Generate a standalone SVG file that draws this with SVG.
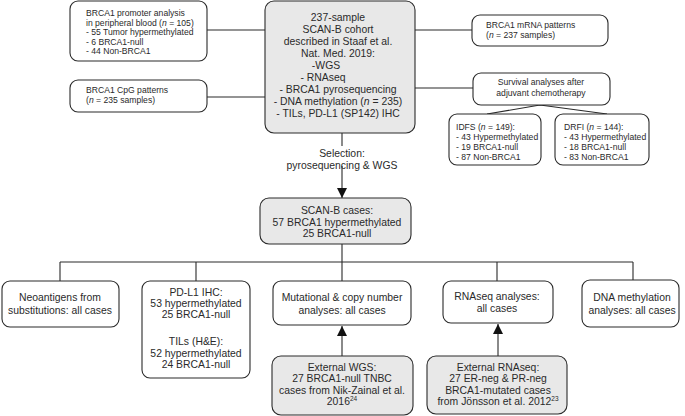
<svg xmlns="http://www.w3.org/2000/svg" width="685" height="416" viewBox="0 0 685 416">
<defs>
<style>
.b{fill:#fff;stroke:#2a2a2a;stroke-width:1.1}
.g{fill:#e8e8e8;stroke:#2a2a2a;stroke-width:1.1}
.l{fill:none;stroke:#2a2a2a;stroke-width:1.1}
text{font-family:"Liberation Sans",Arial,sans-serif;fill:#2a2a2a}
.s{font-size:8.6px}
.m{font-size:10.4px;text-anchor:middle}
.sc{font-size:8.6px;text-anchor:middle}
.sup{font-size:6.5px}
</style>
<marker id="ah" viewBox="0 0 10 10" refX="10" refY="5" markerWidth="10" markerHeight="10" markerUnits="userSpaceOnUse" orient="auto">
<path d="M0,0L10,5L0,10z" fill="#111"/>
</marker>
</defs>
<g id="connectors">
<path class="l" d="M207,30H265M207,97H265M415,30H472M415,88H473"/>
<path class="l" d="M540,105L487,114M540,105L607,114"/>
<path class="l" d="M342,133V146"/>
<path class="l" d="M342,166V198" marker-end="url(#ah)"/>
<path class="l" d="M342,244V262M60,262H633M60,262V281M196,262V281M497,262V281M633,262V280M342,262V281"/>
<path class="l" d="M342,356V326" marker-end="url(#ah)"/>
<path class="l" d="M498,356V324" marker-end="url(#ah)"/>
</g>
<g id="promoter">
<rect class="b" x="70" y="1" width="137" height="60" rx="8"/>
<text class="s" x="86" y="16">BRCA1 promoter analysis</text>
<text class="s" x="86" y="25.5">in peripheral blood (<tspan font-style="italic">n</tspan> = 105)</text>
<text class="s" x="86" y="35">- 55 Tumor hypermethylated</text>
<text class="s" x="86" y="44.5">- 6 BRCA1-null</text>
<text class="s" x="86" y="54">- 44 Non-BRCA1</text>
</g>
<g id="cpg">
<rect class="b" x="70" y="80" width="137" height="32" rx="8"/>
<text class="s" x="86" y="93">BRCA1 CpG patterns</text>
<text class="s" x="86" y="103">(<tspan font-style="italic">n</tspan> = 235 samples)</text>
</g>
<g id="cohort">
<rect class="g" x="265" y="1" width="150" height="132" rx="9"/>
<text class="m" x="338" y="21">237-sample</text>
<text class="m" x="338" y="33">SCAN-B cohort</text>
<text class="m" x="338" y="45">described in Staaf et al.</text>
<text class="m" x="338" y="57">Nat. Med. 2019:</text>
<text class="m" x="326" y="69">-WGS</text>
<text class="m" x="323" y="81">- RNAseq</text>
<text class="m" x="338" y="93">- BRCA1 pyrosequencing</text>
<text class="m" x="338" y="105">- DNA methylation (<tspan font-style="italic">n</tspan> = 235)</text>
<text class="m" x="338" y="117">- TILs, PD-L1 (SP142) IHC</text>
</g>
<g id="mrna">
<rect class="b" x="472" y="15" width="136" height="31" rx="8"/>
<text class="s" x="486" y="28">BRCA1 mRNA patterns</text>
<text class="s" x="486" y="37.5">(<tspan font-style="italic">n</tspan> = 237 samples)</text>
</g>
<g id="survival">
<rect class="b" x="473" y="73" width="137" height="32" rx="8"/>
<text class="sc" x="541" y="85">Survival analyses after</text>
<text class="sc" x="541" y="96">adjuvant chemotherapy</text>
</g>
<g id="idfs">
<rect class="b" x="449" y="114" width="92" height="51" rx="8"/>
<text class="s" x="456" y="130">IDFS (<tspan font-style="italic">n</tspan> = 149):</text>
<text class="s" x="456" y="140">- 43 Hypermethylated</text>
<text class="s" x="456" y="150">- 19 BRCA1-null</text>
<text class="s" x="456" y="160">- 87 Non-BRCA1</text>
</g>
<g id="drfi">
<rect class="b" x="555" y="114" width="94" height="51" rx="8"/>
<text class="s" x="564" y="130">DRFI (<tspan font-style="italic">n</tspan> = 144):</text>
<text class="s" x="564" y="140">- 43 Hypermethylated</text>
<text class="s" x="564" y="150">- 18 BRCA1-null</text>
<text class="s" x="564" y="160">- 83 Non-BRCA1</text>
</g>
<g id="selection">
<text class="m" x="342" y="157">Selection:</text>
<text class="m" x="342" y="169">pyrosequencing &amp; WGS</text>
</g>
<g id="scanb">
<rect class="g" x="260" y="198" width="151" height="46" rx="9"/>
<text class="m" x="337" y="214">SCAN-B cases:</text>
<text class="m" x="337" y="225.5">57 BRCA1 hypermethylated</text>
<text class="m" x="337" y="237">25 BRCA1-null</text>
</g>
<g id="neoantigens">
<rect class="b" x="2" y="281" width="117" height="46" rx="8"/>
<text class="m" x="60" y="301">Neoantigens from</text>
<text class="m" x="60" y="313.5">substitutions: all cases</text>
</g>
<g id="pdl1">
<rect class="b" x="142" y="281" width="108" height="97" rx="8"/>
<text class="m" x="196" y="296">PD-L1 IHC:</text>
<text class="m" x="196" y="307">53 hypermethylated</text>
<text class="m" x="196" y="318">25 BRCA1-null</text>
<text class="m" x="196" y="345">TILs (H&amp;E):</text>
<text class="m" x="196" y="356.5">52 hypermethylated</text>
<text class="m" x="196" y="368">24 BRCA1-null</text>
</g>
<g id="mutational">
<rect class="b" x="273" y="281" width="138" height="44" rx="8"/>
<text class="m" x="342" y="301">Mutational &amp; copy number</text>
<text class="m" x="342" y="313.5">analyses: all cases</text>
</g>
<g id="rnaseq">
<rect class="b" x="443" y="281" width="110" height="42" rx="8"/>
<text class="m" x="497" y="300">RNAseq analyses:</text>
<text class="m" x="497" y="312">all cases</text>
</g>
<g id="dnameth">
<rect class="b" x="582" y="280" width="97" height="47" rx="8"/>
<text class="m" x="632" y="301">DNA methylation</text>
<text class="m" x="632" y="314">analyses: all cases</text>
</g>
<g id="extwgs">
<rect class="g" x="272" y="356" width="141" height="59" rx="9"/>
<text class="m" x="342" y="371">External WGS:</text>
<text class="m" x="342" y="382">27 BRCA1-null TNBC</text>
<text class="m" x="342" y="393.5">cases from Nik-Zainal et al.</text>
<text class="m" x="342" y="405">2016<tspan class="sup" dy="-4">24</tspan></text>
</g>
<g id="extrna">
<rect class="g" x="427" y="356" width="140" height="58" rx="9"/>
<text class="m" x="498" y="371">External RNAseq:</text>
<text class="m" x="498" y="382">27 ER-neg &amp; PR-neg</text>
<text class="m" x="498" y="393.5">BRCA1-mutated cases</text>
<text class="m" x="498" y="405">from Jönsson et al. 2012<tspan class="sup" dy="-4">23</tspan></text>
</g>
</svg>
